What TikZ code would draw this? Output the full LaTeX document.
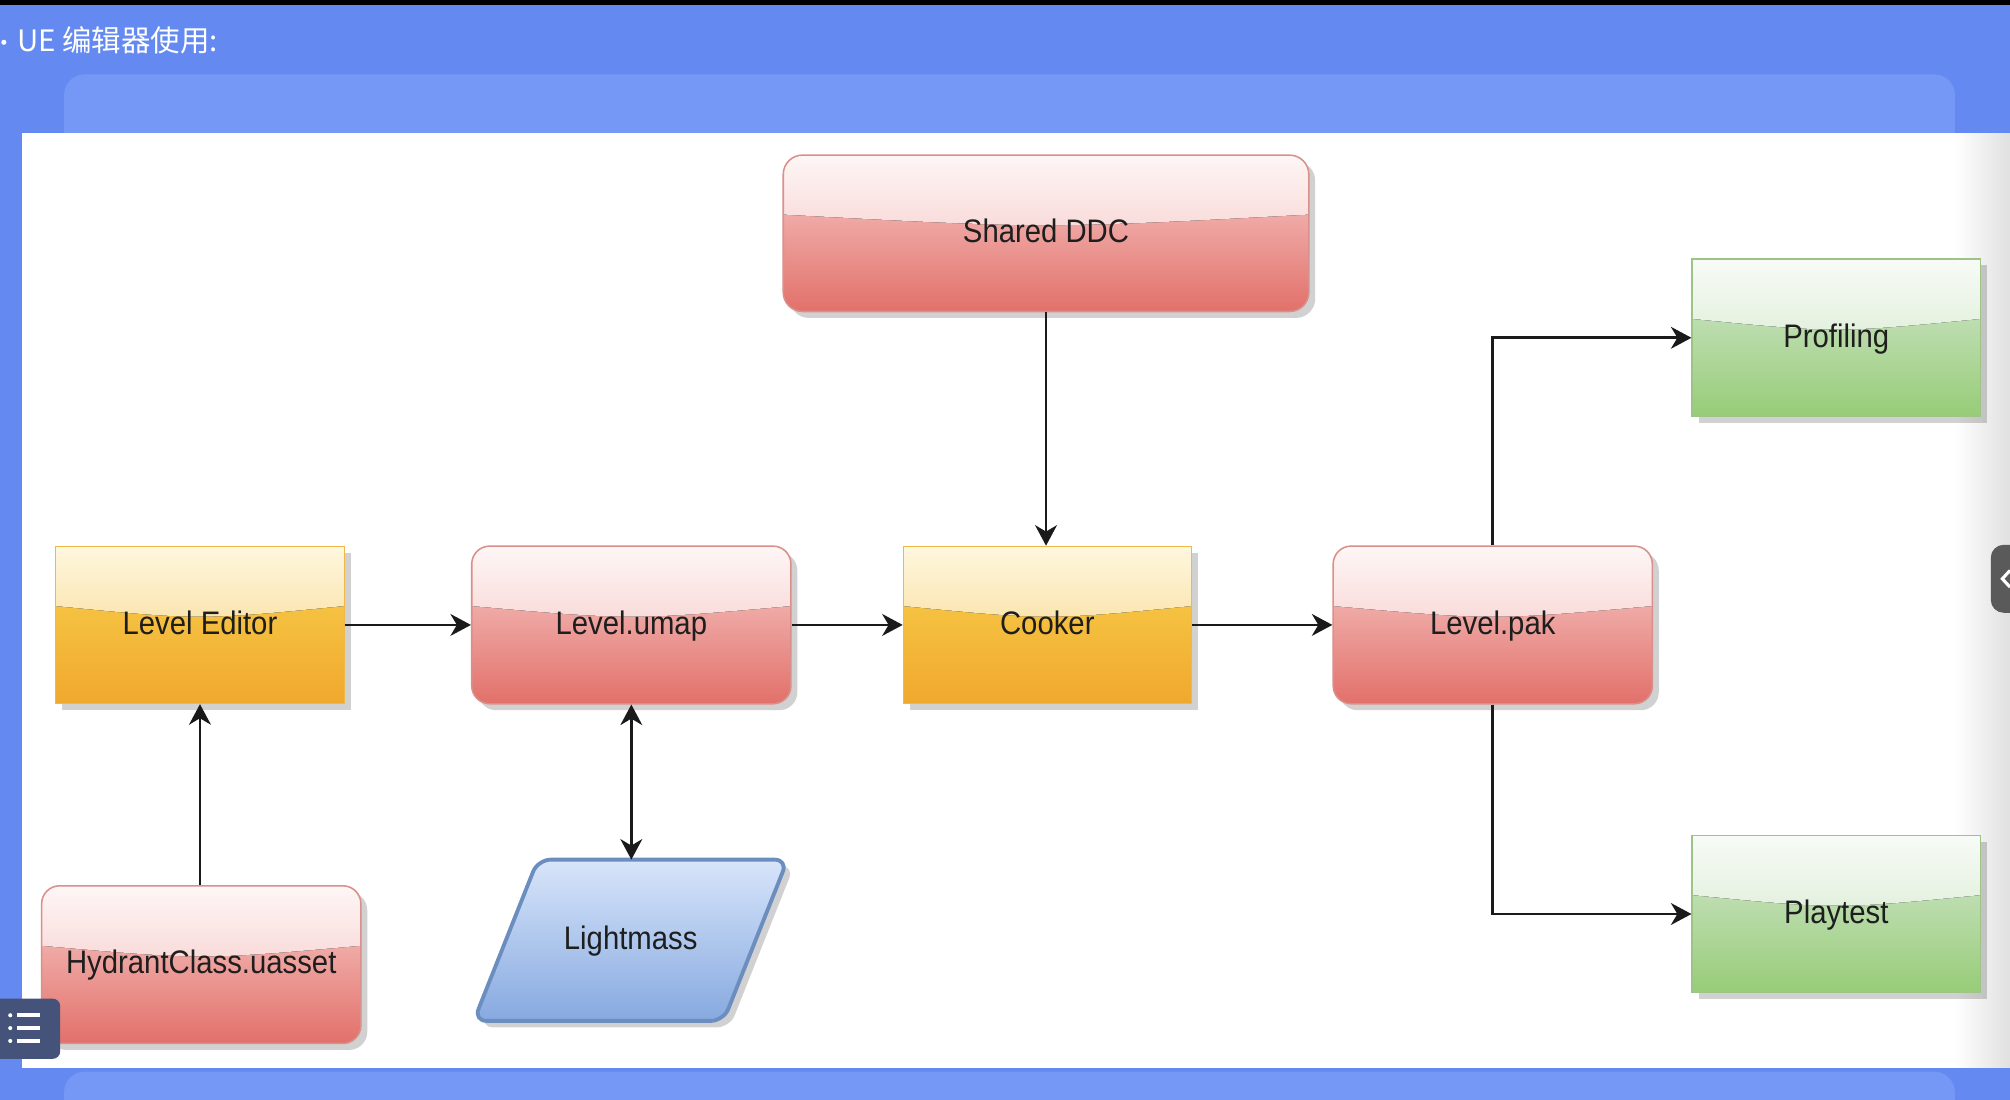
\documentclass[tikz,border=0pt]{standalone}
\usepackage{fontspec}
\newfontfamily\diagfont[FakeStretch=0.9]{Liberation Sans}
\newfontfamily\cjkfont{Noto Sans CJK SC}
\usetikzlibrary{arrows.meta,shadows,calc}
\pgfdeclarelayer{page}
\pgfdeclarelayer{under}
\pgfsetlayers{page,under,main}

\definecolor{bgblue}{HTML}{6489F0}
\definecolor{bandblue}{HTML}{7597F5}
\definecolor{iconbg}{HTML}{45527A}
\definecolor{tabgray}{HTML}{5A5A5A}
\definecolor{textdark}{HTML}{1E1E1E}
\definecolor{linecol}{HTML}{1A1A1A}

\definecolor{rF}{HTML}{F8CECC}\definecolor{rG}{HTML}{E2706A}\definecolor{rS}{HTML}{D98F8A}
\definecolor{oF}{HTML}{F9D24E}\definecolor{oG}{HTML}{F0A82E}\definecolor{oS}{HTML}{F0B848}
\definecolor{gF}{HTML}{D5E8D4}\definecolor{gG}{HTML}{97CC77}\definecolor{gS}{HTML}{9CC487}
\definecolor{bF}{HTML}{D8E5FA}\definecolor{bG}{HTML}{86A9E0}\definecolor{bS}{HTML}{6C8EBF}
\colorlet{rT}{white!82!rF}\colorlet{rM}{rF!50!rG}\colorlet{rB}{white!30!rM}
\colorlet{oT}{white!82!oF}\colorlet{oM}{oF!50!oG}\colorlet{oB}{white!30!oM}
\colorlet{gT}{white!82!gF}\colorlet{gM}{gF!50!gG}\colorlet{gB}{white!30!gM}

\tikzset{
  glass/.style n args={4}{top color=#1, bottom color=#2,
    path picture={
      \fill[sharp corners, top color=#3, bottom color=#4]
        let \p1=(path picture bounding box.north west),
            \p2=(path picture bounding box.south east) in
        (\x1,\y1) -- (\x1,{\y1+0.38*(\y2-\y1)})
        .. controls ({0.5*(\x1+\x2)},{\y1+0.47*(\y2-\y1)}) .. (\x2,{\y1+0.38*(\y2-\y1)})
        -- (\x2,\y1) -- cycle;
    }},
  softshadow/.style={drop shadow={shadow xshift=2.5pt, shadow yshift=-2.5pt, opacity=0.18, fill=black}},
  basebox/.style={font=\diagfont\fontsize{12.7}{15}\selectfont, text=textdark,
    inner sep=0pt, text height=0.72em, text depth=0pt, softshadow},
  redbox/.style={basebox, glass={rF}{rG}{rT}{rB}, draw=rS, line width=0.6pt,
    minimum width=124.5pt, minimum height=61.5pt, rounded corners=7pt},
  orangebox/.style={basebox, glass={oF}{oG}{oT}{oB}, draw=oS, line width=0.3pt,
    minimum width=112.5pt, minimum height=61.5pt},
  greenbox/.style={basebox, glass={gF}{gG}{gT}{gB}, draw=gS, line width=0.5pt,
    minimum width=112.5pt, minimum height=61.5pt},
  partext/.style={font=\diagfont\fontsize{12.7}{15}\selectfont, text=textdark,
    inner sep=0pt, text height=0.72em, text depth=0pt,
    minimum width=122pt, minimum height=62.5pt},
  parshape/.style={top color=bF, bottom color=bG, draw=bS, line width=1.5pt,
    rounded corners=5pt, line join=round, softshadow},
  link/.style={draw=linecol, line width=1.1pt, -{Stealth[length=8pt,width=8.5pt,inset=2.5pt]}},
  dlink/.style={draw=linecol, line width=1.1pt, {Stealth[length=8pt,width=8.5pt,inset=2.5pt]}-{Stealth[length=8pt,width=8.5pt,inset=2.5pt]}},
}

\begin{document}
\begin{tikzpicture}[x=0.5pt,y=-0.5pt]
\useasboundingbox (0,0) rectangle (1568,858);
% page background
\begin{pgfonlayer}{page}
\fill[bgblue] (0,0) rectangle (1568,858);
\fill[black] (0,0) rectangle (1568,4);
\fill[bandblue, rounded corners=8pt] (50,58) rectangle (1525,140);
\fill[bandblue, rounded corners=8pt] (50,836) rectangle (1525,880);
\fill[white] (17,104) rectangle (1568,833);
\shade[left color=white, right color=black!12] (1525,104) rectangle (1568,833);
\end{pgfonlayer}

% title
\fill[white] (3,33) circle (2);
\node[anchor=base west, inner sep=0pt, text=white, font=\cjkfont\fontsize{11.5}{13}\selectfont] (title) at (13,40.5) {UE 编辑器使用:};

% diagram nodes
\node[redbox, minimum width=205pt, minimum height=61pt, rounded corners=7.5pt] (ddc) at (816,182) {Shared DDC};
\node[greenbox] (prof) at (1432.5,263.5) {Profiling};
\node[orangebox] (le) at (156,487.5) {Level Editor};
\node[redbox] (lu) at (492.5,487.5) {Level.umap};
\node[orangebox] (cook) at (817,487.5) {Cooker};
\node[redbox] (lp) at (1164.5,487.5) {Level.pak};
\node[redbox] (hc) at (157,752.5) {HydrantClass.uasset};
\node[partext] (lm) at (492,733.5) {Lightmass};
\node[greenbox] (play) at (1432.5,713) {Playtest};

% parallelogram outline of Lightmass
\begin{pgfonlayer}{under}
\path[parshape] (lm.south west) -- ($(lm.north west)+(50,0)$) -- (lm.north east)
  -- ($(lm.south east)+(-50,0)$) -- cycle;
\end{pgfonlayer}

% connectors
\draw[link] (ddc.south) -- (ddc.south |- cook.north);
\draw[link] (le.east) -- (lu.west);
\draw[link] (lu.east) -- (cook.west);
\draw[link] (cook.east) -- (lp.west);
\draw[link] (le.south |- hc.north) -- (le.south);
\draw[dlink] (lu.south) -- (lu.south |- lm.north);
\draw[link] (lp.north) |- (prof.west);
\draw[link] (lp.south) |- (play.west);

% screen overlay widgets
\fill[iconbg, rounded corners=3pt] (-10,779) rectangle (47,826);
\foreach \yy in {792,802,812}{
  \fill[white] (8,\yy) circle (1.6);
  \draw[white, line width=1.4pt] (13,\yy) -- (31,\yy);
}
\fill[tabgray, rounded corners=5pt] (1553,425) rectangle (1590,478);
\draw[white, line width=1.2pt] (1568,445) -- (1562,451.5) -- (1568,458);
\end{tikzpicture}
\end{document}
